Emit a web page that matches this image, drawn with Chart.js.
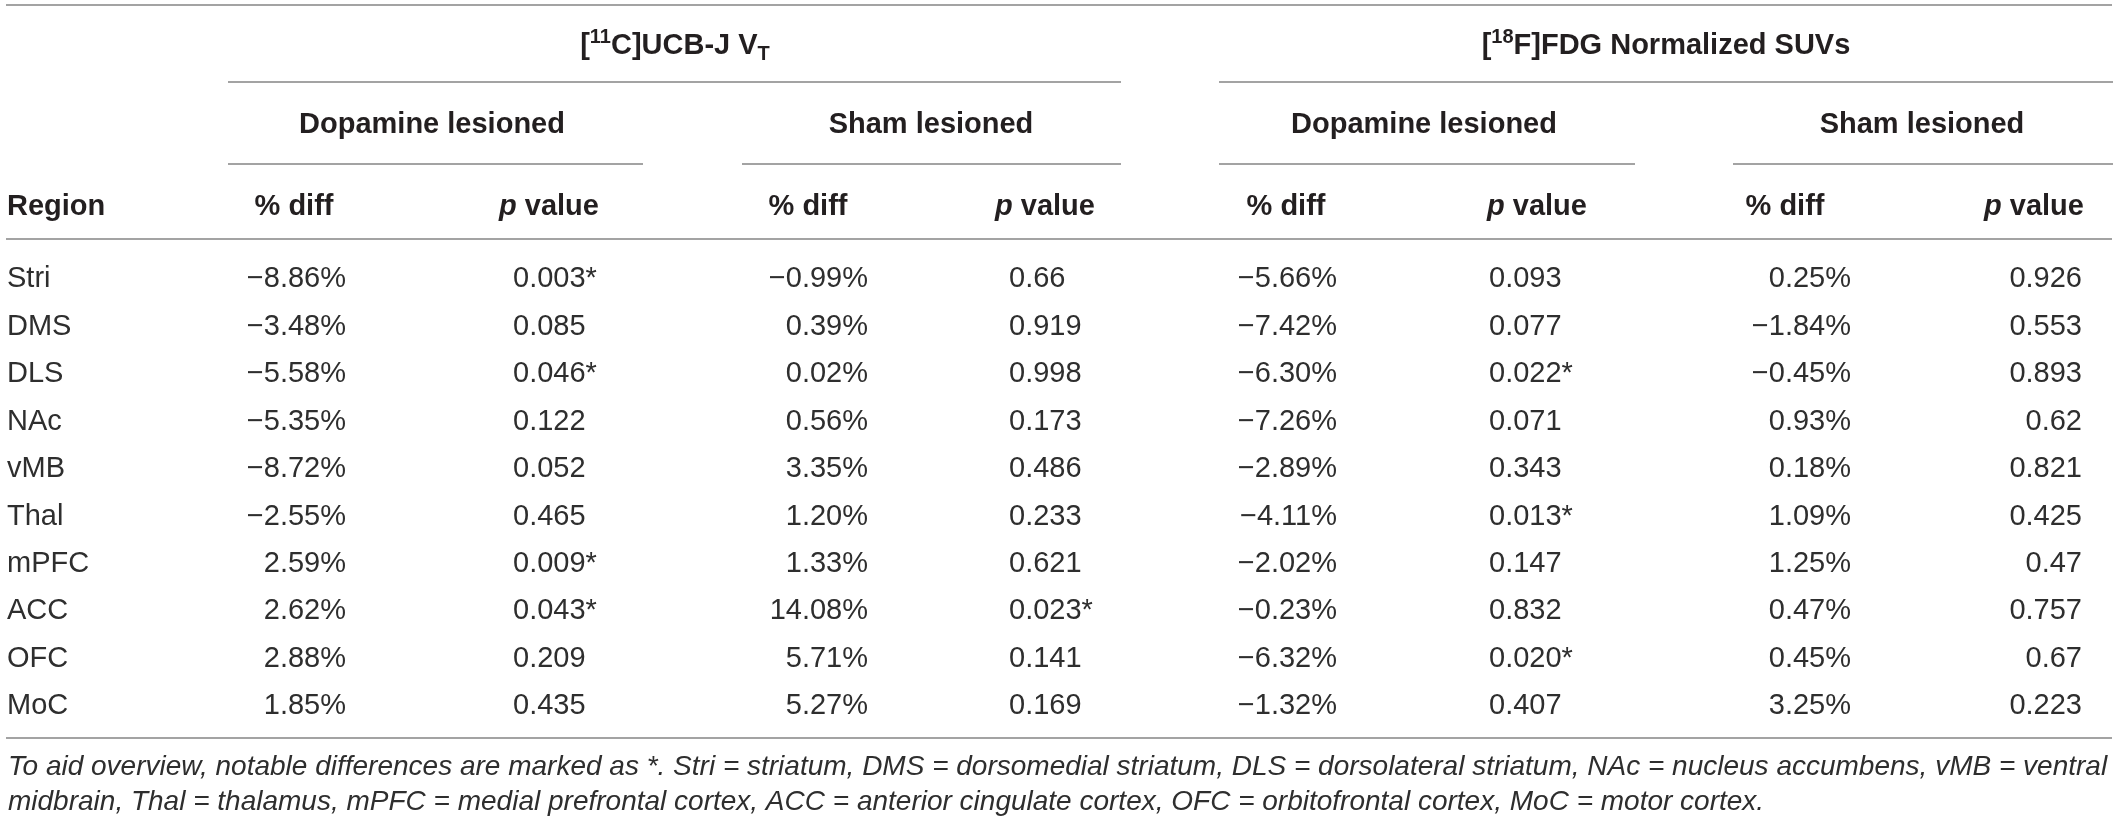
<!DOCTYPE html>
<html>
<head>
<meta charset="utf-8">
<script src="https://cdn.jsdelivr.net/npm/chart.js@4.4.1/dist/chart.umd.min.js"></script>
<style>
  html, body { margin: 0; padding: 0; background: #fff; }
  #wrap { width: 2118px; height: 823px; position: relative; }
</style>
</head>
<body>
<div id="wrap"><canvas id="tableChart"></canvas></div>
<script>
// table values
const regions = ['Stri', 'DMS', 'DLS', 'NAc', 'vMB', 'Thal', 'mPFC', 'ACC', 'OFC', 'MoC'];

const ucbDopaDiff = [-8.86, -3.48, -5.58, -5.35, -8.72, -2.55, 2.59, 2.62, 2.88, 1.85];
const ucbDopaP = ['0.003*', '0.085', '0.046*', '0.122', '0.052', '0.465', '0.009*', '0.043*', '0.209', '0.435'];
const ucbShamDiff = [-0.99, 0.39, 0.02, 0.56, 3.35, 1.20, 1.33, 14.08, 5.71, 5.27];
const ucbShamP = ['0.66', '0.919', '0.998', '0.173', '0.486', '0.233', '0.621', '0.023*', '0.141', '0.169'];

const fdgDopaDiff = [-5.66, -7.42, -6.30, -7.26, -2.89, -4.11, -2.02, -0.23, -6.32, -1.32];
const fdgDopaP = ['0.093', '0.077', '0.022*', '0.071', '0.343', '0.013*', '0.147', '0.832', '0.020*', '0.407'];
const fdgShamDiff = [0.25, -1.84, -0.45, 0.93, 0.18, 1.09, 1.25, 0.47, 0.45, 3.25];
const fdgShamP = ['0.926', '0.553', '0.893', '0.62', '0.821', '0.425', '0.47', '0.757', '0.67', '0.223'];

const groupTitles = [
  { pre: '[', sup: '11', main: 'C]UCB-J V', sub: 'T' },
  { pre: '[', sup: '18', main: 'F]FDG Normalized SUVs', sub: '' }
];
const subGroups = ['Dopamine lesioned', 'Sham lesioned', 'Dopamine lesioned', 'Sham lesioned'];

const footnote = [
  'To aid overview, notable differences are marked as *. Stri = striatum, DMS = dorsomedial striatum, DLS = dorsolateral striatum, NAc = nucleus accumbens, vMB = ventral',
  'midbrain, Thal = thalamus, mPFC = medial prefrontal cortex, ACC = anterior cingulate cortex, OFC = orbitofrontal cortex, MoC = motor cortex.'
];

const fmtDiff = v => (v < 0 ? '\u2212' : '') + Math.abs(v).toFixed(2) + '%';

// column layout (x in px units of the hidden linear scale)
const columns = [
  { head: 'Region', vals: regions, x: 7, align: 'left', hx: 7, halign: 'left' },
  { head: '% diff', vals: ucbDopaDiff.map(fmtDiff), x: 346, align: 'right', hx: 294 },
  { head: 'p', vals: ucbDopaP, x: 513, align: 'left', hx: 549 },
  { head: '% diff', vals: ucbShamDiff.map(fmtDiff), x: 868, align: 'right', hx: 808 },
  { head: 'p', vals: ucbShamP, x: 1009, align: 'left', hx: 1045 },
  { head: '% diff', vals: fdgDopaDiff.map(fmtDiff), x: 1337, align: 'right', hx: 1286 },
  { head: 'p', vals: fdgDopaP, x: 1489, align: 'left', hx: 1537 },
  { head: '% diff', vals: fdgShamDiff.map(fmtDiff), x: 1851, align: 'right', hx: 1785 },
  { head: 'p', vals: fdgShamP, x: 2082, align: 'right', hx: 2034 }
];

const lay = {
  font: '"Liberation Sans", Arial, sans-serif',
  size: 29,
  noteSize: 28,
  text: '#231f20',
  body: '#2e2e2e',
  rule: '#a3a3a3',
  titleY: 54, titleX: [675, 1666],
  groupLine: [[228, 1121], [1219, 2113]], groupLineY: 82,
  subY: 133, subX: [432, 931, 1424, 1922],
  subLine: [[228, 643], [742, 1121], [1219, 1635], [1733, 2113]], subLineY: 164,
  headY: 215, headLineY: 239,
  topY: 5, bottomY: 738, ruleX: [6, 2112],
  noteX: 8, noteY: [775, 810]
};

const tablePlugin = {
  id: 'tableText',
  afterDraw(chart) {
    const ctx = chart.ctx;
    const xs = chart.scales.x;
    const ys = chart.scales.y;
    const X = v => xs.getPixelForValue(v);
    const f = (w, s, it) => (it ? 'italic ' : '') + w + ' ' + s + 'px ' + lay.font;

    ctx.save();
    ctx.textBaseline = 'alphabetic';
    ctx.fillStyle = lay.text;

    // rules
    ctx.strokeStyle = lay.rule;
    ctx.lineWidth = 2;
    const hline = (a, b, y) => { ctx.beginPath(); ctx.moveTo(X(a), y); ctx.lineTo(X(b), y); ctx.stroke(); };
    hline(lay.ruleX[0], lay.ruleX[1], lay.topY);
    lay.groupLine.forEach(l => hline(l[0], l[1], lay.groupLineY));
    lay.subLine.forEach(l => hline(l[0], l[1], lay.subLineY));
    hline(lay.ruleX[0], lay.ruleX[1], lay.headLineY);
    hline(lay.ruleX[0], lay.ruleX[1], lay.bottomY);

    // group titles with sup / sub
    groupTitles.forEach((g, i) => {
      const big = f('bold', lay.size), small = f('bold', Math.round(lay.size * 0.7));
      ctx.font = big; const w1 = ctx.measureText(g.pre).width, w3 = ctx.measureText(g.main).width;
      ctx.font = small; const w2 = ctx.measureText(g.sup).width, w4 = g.sub ? ctx.measureText(g.sub).width : 0;
      let x = X(lay.titleX[i]) - (w1 + w2 + w3 + w4) / 2;
      const y = lay.titleY;
      ctx.textAlign = 'left';
      ctx.font = big; ctx.fillText(g.pre, x, y); x += w1;
      ctx.font = small; ctx.fillText(g.sup, x, y - 11); x += w2;
      ctx.font = big; ctx.fillText(g.main, x, y); x += w3;
      if (g.sub) { ctx.font = small; ctx.fillText(g.sub, x, y + 6); }
    });

    // sub group headers
    ctx.font = f('bold', lay.size);
    ctx.textAlign = 'center';
    subGroups.forEach((s, i) => ctx.fillText(s, X(lay.subX[i]), lay.subY));

    // column headers
    columns.forEach(c => {
      if (c.head === 'p') {
        ctx.font = f('bold', lay.size, true); const wp = ctx.measureText('p').width;
        ctx.font = f('bold', lay.size); const wv = ctx.measureText(' value').width;
        const x0 = X(c.hx) - (wp + wv) / 2;
        ctx.textAlign = 'left';
        ctx.font = f('bold', lay.size, true); ctx.fillText('p', x0, lay.headY);
        ctx.font = f('bold', lay.size); ctx.fillText(' value', x0 + wp, lay.headY);
      } else {
        ctx.font = f('bold', lay.size);
        ctx.textAlign = c.halign || 'center';
        ctx.fillText(c.head, X(c.hx), lay.headY);
      }
    });

    // body cells, rows from the category scale
    ctx.font = f('normal', lay.size);
    ctx.fillStyle = lay.body;
    columns.forEach(c => {
      ctx.textAlign = c.align;
      c.vals.forEach((v, r) => {
        ctx.fillText(v, X(c.x), ys.getPixelForValue(r) + lay.size * 0.358);
      });
    });

    // footnote
    ctx.font = f('normal', lay.noteSize, true);
    ctx.textAlign = 'left';
    footnote.forEach((t, i) => ctx.fillText(t, X(lay.noteX), lay.noteY[i]));

    ctx.restore();
  }
};

const ctx = document.getElementById('tableChart').getContext('2d');
new Chart(ctx, {
  type: 'scatter',
  data: {
    labels: regions,
    datasets: [{ data: [], pointRadius: 0 }]
  },
  options: {
    responsive: true,
    maintainAspectRatio: false,
    animation: false,
    layout: { padding: { top: 253.4, bottom: 95.4, left: 0, right: 0 } },
    plugins: { legend: { display: false }, tooltip: { enabled: false } },
    scales: {
      x: { type: 'linear', min: 0, max: 2118, display: false },
      y: { type: 'category', labels: regions, offset: true, display: false }
    }
  },
  plugins: [tablePlugin]
});
</script>
</body>
</html>
